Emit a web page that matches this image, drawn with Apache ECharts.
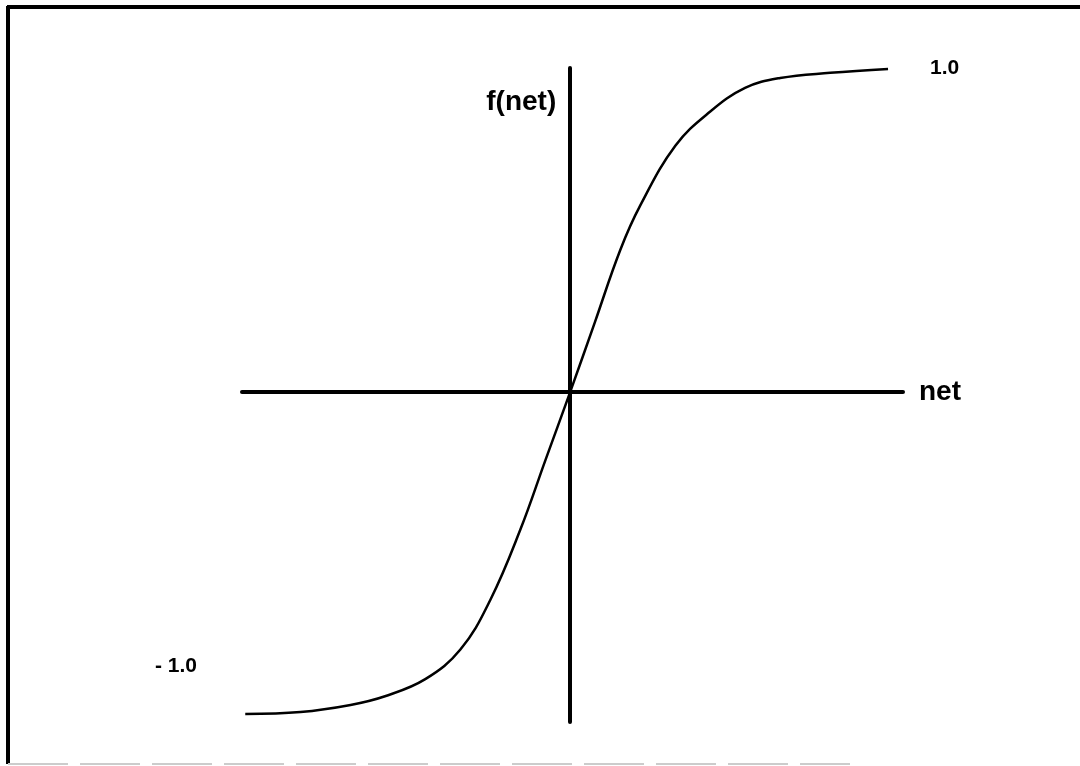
<!DOCTYPE html>
<html>
<head>
<meta charset="utf-8">
<style>
  html, body { margin: 0; padding: 0; background: #fff; }
  #main { width: 1080px; height: 766px; }
</style>
<script src="https://cdn.jsdelivr.net/npm/echarts@6/dist/echarts.min.js"></script>
</head>
<body>
<div id="main"></div>
<script>
// net values (horizontal) and f(net)
const netValues = [-5.0, -4.15, -3.38, -2.85, -2.23, -1.69, -1.23, -0.77, -0.38, 0,
  0.38, 0.77, 1.08, 1.62, 2.15, 2.69, 3.23, 4.0, 4.89]
const fValues = [-1.0, -0.994, -0.972, -0.945, -0.892, -0.8, -0.646, -0.429, -0.211, 0,
  0.217, 0.441, 0.58, 0.765, 0.87, 0.944, 0.975, 0.991, 1.003]
const levelLabels = ['1.0', '- 1.0']

const myChart = echarts.init(document.getElementById('main'))
const font = '"Liberation Sans", Arial, sans-serif'

myChart.setOption({
  animation: false,
  grid: { left: 242, right: 177, top: 68, bottom: 44 },
  xAxis: {
    type: 'value',
    min: -5.05,
    max: 5.12,
    name: 'net',
    nameLocation: 'end',
    nameGap: 16,
    nameTextStyle: { color: '#000', fontFamily: font, fontWeight: 'bold', fontSize: 28, verticalAlign: 'middle', padding: [0, 0, 4, 0] },
    axisLine: { onZero: true, lineStyle: { color: '#000', width: 4 } },
    axisTick: { show: false },
    axisLabel: { show: false },
    splitLine: { show: false }
  },
  yAxis: {
    type: 'value',
    min: -1.025,
    max: 1.006,
    name: 'f(net)',
    nameLocation: 'end',
    nameGap: -34,
    nameTextStyle: { color: '#000', fontFamily: font, fontWeight: 'bold', fontSize: 28, align: 'right', verticalAlign: 'middle', padding: [0, 14, 0, 0] },
    axisLine: { onZero: true, lineStyle: { color: '#000', width: 4 } },
    axisTick: { show: false },
    axisLabel: { show: false },
    splitLine: { show: false }
  },
  series: [{
    type: 'line',
    data: netValues.map((x, i) => [x, fValues[i]]),
    smooth: 0.4,
    showSymbol: false,
    lineStyle: { color: '#000', width: 2.5 }
  }],
  graphic: [
    { type: 'line', shape: { x1: 7, y1: 7, x2: 1080, y2: 7 }, style: { stroke: '#000', lineWidth: 4 } },
    { type: 'line', shape: { x1: 8, y1: 6, x2: 8, y2: 764 }, style: { stroke: '#000', lineWidth: 4 } },
    { type: 'line', shape: { x1: 8, y1: 764, x2: 850, y2: 764 }, style: { stroke: '#ccc', lineWidth: 2, lineDash: [60, 12] } },
    { type: 'text', left: 930, top: 58, style: { text: levelLabels[0], font: 'bold 21px ' + font, fill: '#000' } },
    { type: 'text', left: 155, top: 656, style: { text: levelLabels[1], font: 'bold 21px ' + font, fill: '#000' } }
  ]
})
</script>
</body>
</html>
